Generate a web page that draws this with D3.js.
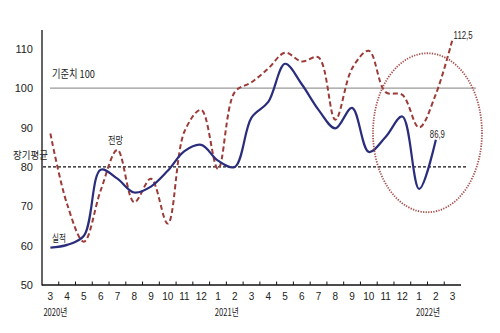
<!DOCTYPE html>
<html>
<head>
<meta charset="utf-8">
<script src="https://cdn.jsdelivr.net/npm/d3@7"></script>
<style>
  html, body { margin: 0; padding: 0; background: #fff; }
  svg { display: block; }
  text { font-family: "Liberation Sans Narrow", "Liberation Sans", "Noto Sans CJK KR", sans-serif; fill: #222; }
  .kr { font-family: "Noto Sans CJK KR", sans-serif; }
</style>
</head>
<body>
<svg id="chart" width="500" height="333"></svg>
<script>
// Months from 2020.3 to 2022.3
const months = ["2020-3","2020-4","2020-5","2020-6","2020-7","2020-8","2020-9","2020-10","2020-11","2020-12",
  "2021-1","2021-2","2021-3","2021-4","2021-5","2021-6","2021-7","2021-8","2021-9","2021-10","2021-11","2021-12",
  "2022-1","2022-2","2022-3"];
const monthLabels = months.map(m => m.split("-")[1]);

// 실적 (actual), through 2022.2
const actual = [59.5, 60.2, 62.5, 79.3, 77.0, 73.5, 75.0, 79.0, 84.0, 85.6,
  81.6, 80.0, 92.5, 96.5, 106.2, 101.0, 94.5, 89.8, 95.0, 83.8, 87.6, 92.8,
  74.4, 86.9];

// 전망 (outlook), through 2022.3
const outlook = [88.5, 70.5, 61.0, 74.0, 84.3, 71.0, 77.0, 65.6, 89.0, 94.5,
  79.5, 99.0, 101.5, 105.0, 109.0, 106.8, 107.8, 92.0, 105.0, 109.5, 99.0, 98.3,
  90.0, 98.5, 112.5];

const yTicks = [50, 60, 70, 80, 90, 100, 110];
const years = [
  { key: "2020-3", label: "2020년" },
  { key: "2021-1", label: "2021년" },
  { key: "2022-1", label: "2022년" }
];
const baseline = 100;
const longAvg = 80;

const svg = d3.select("#chart");
const x = d3.scaleBand().domain(months).range([42, 461]).paddingInner(0).paddingOuter(0);
const y = d3.scaleLinear().domain([50, 110]).range([285, 48.8]);
const cx = m => x(m) + x.bandwidth() / 2;

// Reference lines
svg.append("line")
  .attr("x1", 50).attr("x2", 476)
  .attr("y1", y(baseline)).attr("y2", y(baseline))
  .attr("stroke", "#9a9a9a").attr("stroke-width", 1.2);
svg.append("line")
  .attr("x1", 43).attr("x2", 467)
  .attr("y1", y(longAvg)).attr("y2", y(longAvg))
  .attr("stroke", "#111").attr("stroke-width", 1.1)
  .attr("stroke-dasharray", "3,2");

// Axes
const yAxis = svg.append("g").attr("transform", "translate(42,0)")
  .call(d3.axisLeft(y).tickValues(yTicks).tickSize(0).tickPadding(9));
yAxis.select(".domain").remove();
yAxis.selectAll("text").attr("font-size", 11).style("font-family", "'Liberation Sans Narrow', 'Liberation Sans', sans-serif");

svg.append("line").attr("x1", 42).attr("x2", 42).attr("y1", 30).attr("y2", 285.5)
  .attr("stroke", "#111").attr("stroke-width", 1.3);
svg.append("line").attr("x1", 42).attr("x2", 461).attr("y1", 285).attr("y2", 285)
  .attr("stroke", "#111").attr("stroke-width", 1.3);

const xAxis = svg.append("g").attr("transform", "translate(0,285)")
  .call(d3.axisBottom(x).tickSize(0).tickPadding(8).tickFormat((d, i) => monthLabels[i]));
xAxis.select(".domain").remove();
xAxis.selectAll("text").attr("font-size", 10).style("font-family", "'Liberation Sans Narrow', 'Liberation Sans', sans-serif");

// Month boundary ticks pointing up
svg.append("g").selectAll("line")
  .data(months.slice(0, -1))
  .join("line")
  .attr("x1", d => x(d) + x.bandwidth()).attr("x2", d => x(d) + x.bandwidth())
  .attr("y1", 285).attr("y2", 281.5)
  .attr("stroke", "#111").attr("stroke-width", 1);

// Year labels
svg.append("g").selectAll("text")
  .data(years)
  .join("text")
  .attr("x", (d, i) => i === 0 ? cx(d.key) + 5 : x(d.key) + x.bandwidth() + 0.5)
  .attr("y", 316)
  .attr("text-anchor", "middle")
  .attr("font-size", 10.5)
  .attr("textLength", 24).attr("lengthAdjust", "spacingAndGlyphs")
  .attr("class", "kr")
  .style("font-family", "'Liberation Sans Narrow', 'Noto Sans CJK KR', sans-serif")
  .text(d => d.label);

// Lines
const line = d3.line()
  .x((d, i) => cx(months[i]))
  .y(d => y(d))
  .curve(d3.curveCatmullRom.alpha(0.5));

svg.append("path").datum(outlook)
  .attr("d", line)
  .attr("fill", "none")
  .attr("stroke", "#9c3b38")
  .attr("stroke-width", 2)
  .attr("stroke-dasharray", "5,3");

svg.append("path").datum(actual)
  .attr("d", line)
  .attr("fill", "none")
  .attr("stroke", "#2a2d7c")
  .attr("stroke-width", 2.2);

// Highlight ellipse around the latest months
svg.append("ellipse")
  .attr("cx", x("2022-2"))
  .attr("cy", y(86.9) - 7)
  .attr("rx", 54.5).attr("ry", 79.5)
  .attr("fill", "none")
  .attr("stroke", "#a8504e")
  .attr("stroke-width", 1.8)
  .attr("stroke-dasharray", "1.3,1.3");

// Labels
function label(txt, xp, yp, size, len, kr) {
  const t = svg.append("text").attr("x", xp).attr("y", yp).attr("font-size", size).text(txt);
  if (len) t.attr("textLength", len).attr("lengthAdjust", "spacingAndGlyphs");
  if (kr) t.attr("class", "kr");
  return t;
}
label("기준치 100", 52, y(baseline) - 10, 11, 43, true);
label("장기평균", 13, y(longAvg) - 7.5, 10, 35, true);
label("전망", 108, 144, 10.5, 15, true);
label("실적", 52, 242, 10.5, 14, true);

const lastA = actual.length - 1;
label(String(actual[lastA]).replace(".", ","), cx(months[lastA]) - 6, y(actual[lastA]) - 2, 11, 15, false);
const lastO = outlook.length - 1;
label(String(outlook[lastO]).replace(".", ","), cx(months[lastO]) + 1, y(outlook[lastO]) + 0.5, 11, 19, false);
</script>
</body>
</html>
